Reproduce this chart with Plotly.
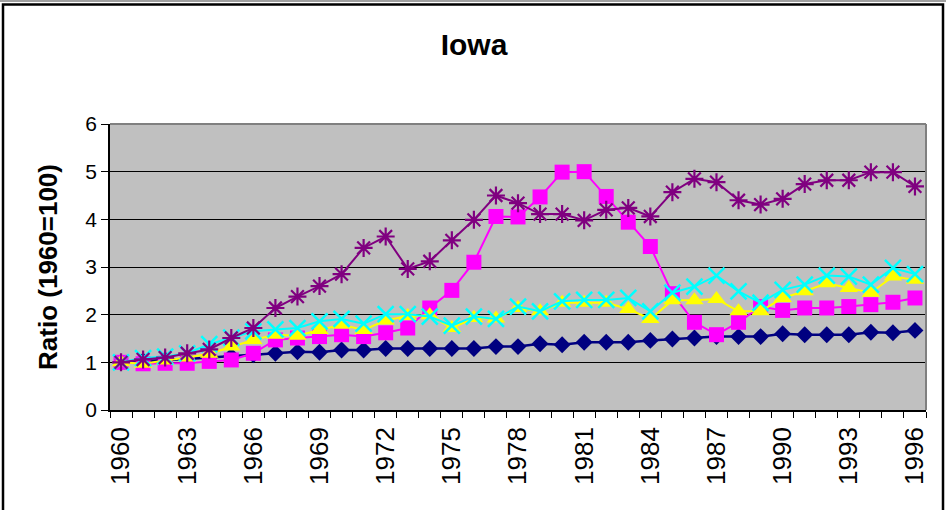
import plotly.graph_objects as go

years = list(range(1960, 1997))

series_navy = [1.00, 1.03, 1.05, 1.07, 1.10, 1.13, 1.16, 1.19, 1.22, 1.21, 1.26, 1.26, 1.29,
               1.29, 1.29, 1.29, 1.29, 1.33, 1.33, 1.39, 1.37, 1.42, 1.42, 1.42, 1.46, 1.49,
               1.51, 1.54, 1.54, 1.54, 1.60, 1.58, 1.58, 1.58, 1.63, 1.62, 1.67]
series_magenta = [1.00, 0.97, 0.98, 0.98, 1.02, 1.05, 1.19, 1.47, 1.51, 1.54, 1.58, 1.54, 1.62,
                  1.72, 2.14, 2.51, 3.10, 4.06, 4.05, 4.47, 4.99, 5.00, 4.48, 3.94, 3.43, 2.44,
                  1.84, 1.58, 1.84, 2.17, 2.09, 2.14, 2.14, 2.17, 2.21, 2.26, 2.35]
series_yellow = [1.00, 0.97, 1.04, 1.10, 1.18, 1.33, 1.47, 1.58, 1.56, 1.68, 1.79, 1.68, 1.88,
                 1.97, 1.99, 1.72, 1.93, 1.92, 2.14, 2.07, 2.25, 2.25, 2.25, 2.12, 1.91, 2.30,
                 2.30, 2.33, 2.07, 2.07, 2.35, 2.49, 2.66, 2.56, 2.46, 2.80, 2.73]
series_cyan = [1.00, 1.09, 1.12, 1.19, 1.38, 1.52, 1.65, 1.69, 1.72, 1.86, 1.91, 1.81, 2.01,
               2.01, 1.96, 1.77, 1.96, 1.91, 2.17, 2.07, 2.28, 2.31, 2.31, 2.35, 2.07, 2.46,
               2.59, 2.82, 2.49, 2.25, 2.52, 2.63, 2.82, 2.80, 2.63, 2.98, 2.85]
series_purple = [1.00, 1.06, 1.10, 1.19, 1.27, 1.51, 1.72, 2.14, 2.38, 2.60, 2.85, 3.40, 3.64,
                 2.96, 3.12, 3.56, 3.99, 4.50, 4.34, 4.11, 4.11, 3.98, 4.20, 4.24, 4.06, 4.57,
                 4.85, 4.78, 4.40, 4.31, 4.43, 4.74, 4.82, 4.82, 4.99, 4.99, 4.69]

label_years = list(range(1960, 1997, 3))

FONT = "Liberation Sans, Arial, sans-serif"

fig = go.Figure()

def add(y, color, symbol, size, lw=2, mline=None):
    marker = dict(symbol=symbol, size=size, color=color)
    if mline is not None:
        marker["line"] = dict(color=color, width=mline)
    fig.add_trace(go.Scatter(x=years, y=y, mode="lines+markers",
                             line=dict(color=color, width=lw),
                             marker=marker, showlegend=False))

add(series_navy, "#000080", "diamond", 13, lw=2.5)
add(series_magenta, "#FF00FF", "square", 15)
add(series_yellow, "#FFFF00", "triangle-up", 16)
add(series_cyan, "#00FFFF", "x-thin", 16, mline=2.5)
add(series_purple, "#800080", "asterisk", 15, mline=2.2)

L, R, T, B = 110, 926, 124, 410
W, H = 946, 510
pw, ph = R - L, B - T

def px(x):
    return (x - L) / pw

def py(y):
    return (B - y) / ph

shapes = [
    # outer chart border
    dict(type="rect", xref="paper", yref="paper", x0=px(3), x1=px(943), y0=py(520), y1=py(4.5),
         line=dict(color="black", width=2.5), fillcolor="rgba(0,0,0,0)", layer="above"),
    dict(type="line", xref="paper", yref="paper", x0=px(0), x1=px(946), y0=py(1), y1=py(1),
         line=dict(color="#a0a0a0", width=2)),
    # plot area gray border (top, right)
    dict(type="line", xref="paper", yref="paper", x0=0, x1=1, y0=1, y1=1,
         line=dict(color="#808080", width=2)),
    dict(type="line", xref="paper", yref="paper", x0=1, x1=1, y0=0, y1=1,
         line=dict(color="#808080", width=2)),
]

fig.update_layout(
    width=W, height=H,
    margin=dict(l=L, r=W - R, t=T, b=H - B, pad=0),
    paper_bgcolor="white",
    plot_bgcolor="#C0C0C0",
    font=dict(family=FONT, color="black"),
    title=dict(text="<b>Iowa</b>", x=474 / W, xanchor="center", y=1 - 44 / H, yanchor="middle",
               font=dict(size=30, family=FONT, color="black")),
    shapes=shapes,
    showlegend=False,
)

fig.update_xaxes(
    range=[1959.5, 1996.5],
    tickmode="array", tickvals=label_years, ticktext=[str(y) for y in label_years],
    tickangle=-90, ticks="outside", ticklen=5, tickcolor="rgba(0,0,0,0)",
    tickfont=dict(size=26, family=FONT, color="black"),
    showgrid=False, zeroline=False,
    showline=True, linecolor="black", linewidth=1.5,
    minor=dict(tickmode="linear", tick0=1959.5, dtick=1, ticks="outside", ticklen=6,
               tickcolor="black", tickwidth=1, showgrid=False),
)

fig.update_yaxes(
    range=[0, 6], tickmode="linear", tick0=0, dtick=1,
    ticks="outside", ticklen=7, tickcolor="black", tickwidth=1,
    tickfont=dict(size=21, family=FONT, color="black"),
    showgrid=True, gridcolor="black", gridwidth=1,
    zeroline=False,
    showline=True, linecolor="black", linewidth=1.5,
    title=dict(text="<b>Ratio (1960=100)</b>", font=dict(size=26, family=FONT, color="black"),
               standoff=20),
)

fig.write_html("out.html",
               config={"displayModeBar": False},
               post_script="document.body.style.margin='0';document.body.style.overflow='hidden';")
